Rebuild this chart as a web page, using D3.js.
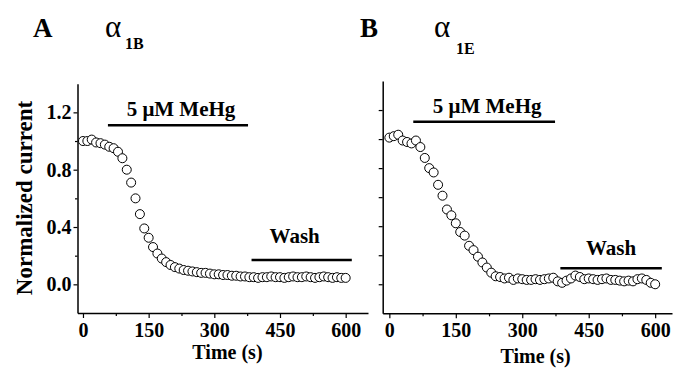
<!DOCTYPE html>
<html>
<head>
<meta charset="utf-8">
<script src="https://d3js.org/d3.v7.min.js"></script>
<style>
    body { margin: 0; background: #fff; }
    text { font-family: "Liberation Serif", "Times New Roman", serif; fill: #000; }
    .axis path, .axis line { stroke: #000; }
    .axis path { stroke-width: 1.5; }
    .axis line { stroke-width: 1.2; }
    .axis text { font-size: 20px; font-weight: bold; }
</style>
</head>
<body>
<div id="chart"></div>
<script>
// sample times (s), shared by both recordings
const timePoints = [
    0, 10, 20, 30, 40, 50, 60, 70, 80, 90,
    100, 110, 120, 130, 140, 150, 160, 170, 180, 190,
    200, 210, 220, 230, 240, 250, 260, 270, 280, 290,
    300, 310, 320, 330, 340, 350, 360, 370, 380, 390,
    400, 410, 420, 430, 440, 450, 460, 470, 480, 490,
    500, 510, 520, 530, 540, 550, 560, 570, 580, 590,
    600];

// normalized current, alpha 1B (panel A)
const alpha1BValues = [
    1.00, 1.00, 1.01, 0.99, 0.985, 0.975, 0.96, 0.95, 0.925, 0.88,
    0.80, 0.71, 0.60, 0.49, 0.39, 0.325, 0.26, 0.215, 0.18, 0.155,
    0.135, 0.12, 0.11, 0.10, 0.095, 0.09, 0.085, 0.08, 0.08, 0.075,
    0.07, 0.07, 0.065, 0.065, 0.06, 0.06, 0.055, 0.055, 0.05, 0.05,
    0.045, 0.05, 0.05, 0.055, 0.05, 0.05, 0.045, 0.05, 0.055, 0.05,
    0.05, 0.055, 0.05, 0.045, 0.05, 0.055, 0.05, 0.045, 0.05, 0.045,
    0.045];

// normalized current, alpha 1E (panel B)
const alpha1EValues = [
    1.01, 1.02, 1.03, 0.99, 0.98, 0.97, 0.99, 0.945, 0.87, 0.80,
    0.77, 0.685, 0.61, 0.515, 0.475, 0.42, 0.36, 0.335, 0.265, 0.235,
    0.19, 0.15, 0.115, 0.08, 0.055, 0.05, 0.04, 0.045, 0.03, 0.04,
    0.035, 0.03, 0.03, 0.035, 0.03, 0.035, 0.04, 0.045, 0.02, 0.01,
    0.025, 0.04, 0.06, 0.05, 0.035, 0.04, 0.035, 0.03, 0.035, 0.04,
    0.03, 0.03, 0.025, 0.02, 0.025, 0.02, 0.035, 0.04, 0.03, 0.01,
    0.0];

const xTicks = [0, 150, 300, 450, 600];
const xMinorTicks = [75, 225, 375, 525];
const yTicks = [0.0, 0.4, 0.8, 1.2];
const yMinorTicks = [0.2, 0.6, 1.0];

// bars: [start, end] in s, level in normalized current
const mehgPeriodA = [57, 377], mehgLevelA = 1.11;
const washPeriodA = [385, 614], washLevelA = 0.17;
const mehgPeriodB = [54, 374], mehgLevelB = 1.12;
const washPeriodB = [386, 615], washLevelB = 0.11;

const mehgLabel = "5 \u03bcM MeHg";
const washLabel = "Wash";
const xLabel = "Time (s)";
const yLabel = "Normalized current";

const W = 674, H = 369;

let svg = d3.select("#chart").append("svg")
    .attr("width", W)
    .attr("height", H);

drawPanel({
    letter: "A", letterX: 33, sub: "1B", alphaX: 105, subX: 125, subY: 49,
    values: alpha1BValues,
    xDomain: [-12.5, 651], xRange: [77.5, 368],
    yRange: [313, 83.7],
    showYLabels: true,
    mehg: mehgPeriodA, mehgLevel: mehgLevelA,
    wash: washPeriodA, washLevel: washLevelA, washDx: -7, washDy: 17,
    xLabelY: 359
});

drawPanel({
    letter: "B", letterX: 360, sub: "1E", alphaX: 434, subX: 456, subY: 54,
    values: alpha1EValues,
    xDomain: [-15, 638], xRange: [382.7, 672],
    yRange: [313.3, 81],
    showYLabels: false,
    mehg: mehgPeriodB, mehgLevel: mehgLevelB,
    wash: washPeriodB, washLevel: washLevelB, washDx: 0, washDy: 13,
    xLabelY: 363
});

function drawPanel(p) {
    let g = svg.append("g");

    let x = d3.scaleLinear().domain(p.xDomain).range(p.xRange);
    let y = d3.scaleLinear().domain([-0.2, 1.4]).range(p.yRange);

    // panel titles
    g.append("text")
        .attr("x", p.letterX).attr("y", 37)
        .style("font-size", "27px").style("font-weight", "bold")
        .text(p.letter);
    g.append("text")
        .attr("x", p.alphaX).attr("y", 37)
        .style("font-size", "31px")
        .text("\u03b1");
    g.append("text")
        .attr("x", p.subX).attr("y", p.subY)
        .style("font-size", "16px").style("font-weight", "bold")
        .text(p.sub);

    // x axis
    g.append("g")
        .attr("class", "axis")
        .attr("transform", `translate(0, ${p.yRange[0]})`)
        .call(d3.axisBottom(x).tickValues(xTicks).tickSize(5).tickSizeOuter(0).tickPadding(5).tickFormat(d3.format("d")));
    g.append("g")
        .attr("class", "axis")
        .attr("transform", `translate(0, ${p.yRange[0]})`)
        .call(d3.axisBottom(x).tickValues(xMinorTicks).tickSize(3).tickSizeOuter(0).tickFormat(""))
        .select(".domain").remove();

    // y axis
    g.append("g")
        .attr("class", "axis")
        .attr("transform", `translate(${p.xRange[0]}, 0)`)
        .call(d3.axisLeft(y).tickValues(yTicks).tickSize(4).tickSizeOuter(0).tickPadding(2)
            .tickFormat(p.showYLabels ? d3.format(".1f") : ""));
    g.append("g")
        .attr("class", "axis")
        .attr("transform", `translate(${p.xRange[0]}, 0)`)
        .call(d3.axisLeft(y).tickValues(yMinorTicks).tickSize(p.showYLabels ? 2.5 : 4).tickSizeOuter(0).tickFormat(""))
        .select(".domain").remove();

    // axis titles
    g.append("text")
        .attr("x", x(330)).attr("y", p.xLabelY)
        .attr("text-anchor", "middle")
        .style("font-size", "20px").style("font-weight", "bold")
        .text(xLabel);
    if (p.showYLabels) {
        g.append("text")
            .attr("transform", `translate(32, 198) rotate(-90)`)
            .attr("text-anchor", "middle")
            .style("font-size", "23px").style("font-weight", "bold")
            .text(yLabel);
    }

    // treatment bars
    g.append("line")
        .attr("x1", x(p.mehg[0])).attr("x2", x(p.mehg[1]))
        .attr("y1", y(p.mehgLevel)).attr("y2", y(p.mehgLevel))
        .attr("stroke", "#000").attr("stroke-width", 2.5);
    g.append("text")
        .attr("x", (x(p.mehg[0]) + x(p.mehg[1])) / 2 + 3)
        .attr("y", y(p.mehgLevel) - 9)
        .attr("text-anchor", "middle")
        .style("font-size", "21px").style("font-weight", "bold")
        .text(mehgLabel);

    g.append("line")
        .attr("x1", x(p.wash[0])).attr("x2", x(p.wash[1]))
        .attr("y1", y(p.washLevel)).attr("y2", y(p.washLevel))
        .attr("stroke", "#000").attr("stroke-width", 2.5);
    g.append("text")
        .attr("x", (x(p.wash[0]) + x(p.wash[1])) / 2 + p.washDx)
        .attr("y", y(p.washLevel) - p.washDy)
        .attr("text-anchor", "middle")
        .style("font-size", "21px").style("font-weight", "bold")
        .text(washLabel);

    // data points
    g.append("g")
        .selectAll("circle")
        .data(timePoints.map((t, i) => ({ t: t, v: p.values[i] })))
        .join("circle")
        .attr("cx", d => x(d.t))
        .attr("cy", d => y(d.v))
        .attr("r", 4.5)
        .attr("fill", "#fff")
        .attr("stroke", "#000")
        .attr("stroke-width", 1);
}
</script>
</body>
</html>
